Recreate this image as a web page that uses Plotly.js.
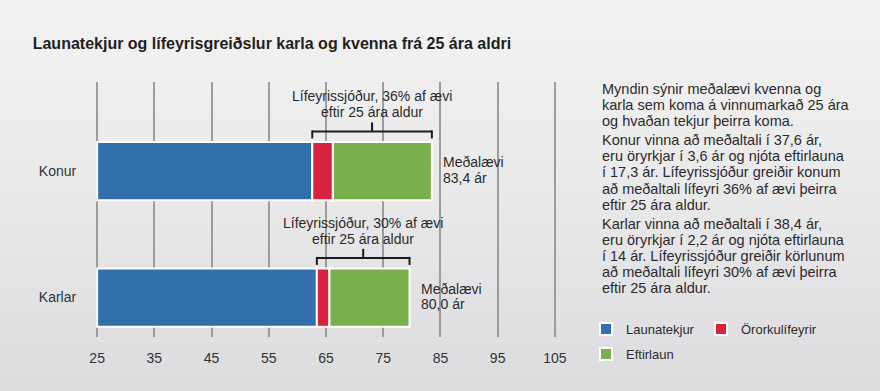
<!DOCTYPE html>
<html><head><meta charset="utf-8">
<script src="https://cdn.plot.ly/plotly-3.0.1.min.js"></script>
<style>
html,body{margin:0;padding:0;}
body{width:880px;height:391px;overflow:hidden;background:linear-gradient(to bottom,#f3f3f3 0%,#eaeaeb 45%,#dcdcdf 100%);}
#chart{width:880px;height:391px;}
</style></head><body><div id="chart"></div>
<script>
// ---------- data ----------
const categories = ['Karlar', 'Konur'];
const launatekjur = [38.4, 37.6];
const ororkulifeyrir = [2.2, 3.6];
const eftirlaun = [14.0, 17.3];
const medalaeviLabels = ['80,0 ár', '83,4 ár'];
const lifeyrisPct = ['30%', '36%'];
const startAge = 25;
const xTicks = [25, 35, 45, 55, 65, 75, 85, 95, 105];
const seriesNames = ['Launatekjur', 'Örorkulífeyrir', 'Eftirlaun'];
const titleText = 'Launatekjur og lífeyrisgreiðslur karla og kvenna frá 25 ára aldri';
const noteParagraphs = [
  ['Myndin sýnir meðalævi kvenna og', 'karla sem koma á vinnumarkað 25 ára', 'og hvaðan tekjur þeirra koma.'],
  ['Konur vinna að meðaltali í 37,6 ár,', 'eru öryrkjar í 3,6 ár og njóta eftirlauna', 'í 17,3 ár. Lífeyrissjóður greiðir konum', 'að meðaltali lífeyri 36% af ævi þeirra', 'eftir 25 ára aldur.'],
  ['Karlar vinna að meðaltali í 38,4 ár,', 'eru öryrkjar í 2,2 ár og njóta eftirlauna', 'í 14 ár. Lífeyrissjóður greiðir körlunum', 'að meðaltali lífeyri 30% af ævi þeirra', 'eftir 25 ára aldur.']
];

// ---------- style ----------
const colors = ['#3170ad', '#d9223f', '#7ab04b'];
const FONT = 'Liberation Sans, Arial, sans-serif';
const TXT = '#2b2b2b';
const W = 880, H = 391;
const xRange = [24.8, 105.2];
const M = {l: 95.85, r: 323.85, t: 82, b: 54, autoexpand: false};
const plotH = H - M.t - M.b, plotW = W - M.l - M.r;
const yRange = [-0.312, 1.704];
const pxPerCat = plotH / (yRange[1] - yRange[0]);
const barW = 0.461;
const px2u = p => p / pxPerCat;
const paperX = px => (px - M.l) / plotW;
const paperY = py => (H - M.b - py) / plotH;

// ---------- derived from data ----------
const base1 = categories.map(() => startAge);
const base2 = launatekjur.map((v, i) => base1[i] + v);
const base3 = ororkulifeyrir.map((v, i) => base2[i] + v);
const ends = eftirlaun.map((v, i) => base3[i] + v);
const bases = [base1, base2, base3];
const vals = [launatekjur, ororkulifeyrir, eftirlaun];
const legends = ['legend', 'legend2', 'legend3'];

const traces = vals.map((v, k) => ({
  type: 'bar', orientation: 'h', name: seriesNames[k],
  y: categories, x: v, base: bases[k], width: barW,
  marker: {color: colors[k], line: {color: '#ffffff', width: 2}},
  legend: legends[k], showlegend: true, hoverinfo: 'skip'
}));

const shapes = [];
const annotations = [];
categories.forEach((c, i) => {
  const top = i + barW / 2;
  const s = base2[i], e = ends[i], m = (s + e) / 2;
  const yEnd = top + px2u(3.5), yH = top + px2u(10.5), yT = top + px2u(19.5);
  const ln = {type: 'line', xref: 'x', yref: 'y', line: {color: '#1c1c1c', width: 2}};
  shapes.push({...ln, x0: s, x1: e, y0: yH, y1: yH});
  shapes.push({...ln, x0: s, x1: s, y0: yEnd, y1: yH + px2u(1)});
  shapes.push({...ln, x0: e, x1: e, y0: yEnd, y1: yH + px2u(1)});
  shapes.push({...ln, x0: m, x1: m, y0: yH, y1: yT});
  const af = {size: 14, color: TXT, family: FONT};
  annotations.push({xref: 'x', yref: 'y', x: m, y: top, yshift: 45.5, xanchor: 'center', yanchor: 'middle',
    text: 'Lífeyrissjóður, ' + lifeyrisPct[i] + ' af ævi', showarrow: false, font: af});
  annotations.push({xref: 'x', yref: 'y', x: m, y: top, yshift: 29.5, xanchor: 'center', yanchor: 'middle',
    text: 'eftir 25 ára aldur', showarrow: false, font: af});
  annotations.push({xref: 'x', yref: 'y', x: e, y: i, xshift: 9, yshift: 8.8, xanchor: 'left', yanchor: 'middle',
    text: 'Meðalævi', showarrow: false, font: af});
  annotations.push({xref: 'x', yref: 'y', x: e, y: i, xshift: 9, yshift: -6.6, xanchor: 'left', yanchor: 'middle',
    text: medalaeviLabels[i], showarrow: false, font: af});
});

// right-hand note, one annotation per line
let baseline = 94;
const lineStep = 16.2, paraGap = 2.5, noteSize = 14.5;
noteParagraphs.forEach((para, pi) => {
  if (pi > 0) baseline += paraGap;
  para.forEach(line => {
    annotations.push({xref: 'paper', yref: 'paper', x: paperX(601.5), y: paperY(baseline - 0.3465 * noteSize),
      xanchor: 'left', yanchor: 'middle', text: line, showarrow: false, borderpad: 0,
      font: {size: noteSize, color: TXT, family: FONT}});
    baseline += lineStep;
  });
});

const legFont = {size: 13, color: TXT, family: FONT};
const mkLeg = (px, py) => ({xref: 'container', yref: 'container', x: px / W, y: 1 - py / H,
  xanchor: 'left', yanchor: 'middle', orientation: 'h', font: legFont, bgcolor: 'rgba(0,0,0,0)', borderwidth: 0});

const layout = {
  width: W, height: H,
  margin: M,
  paper_bgcolor: 'rgba(0,0,0,0)', plot_bgcolor: 'rgba(0,0,0,0)',
  barmode: 'overlay',
  title: {text: titleText, xref: 'container', yref: 'container', x: 32.7 / W, xanchor: 'left',
    y: 1 - 43.5 / H, yanchor: 'middle', automargin: false,
    font: {family: 'Liberation Sans Narrow, Arial Narrow, sans-serif', size: 16, weight: 'bold', color: '#1f1f1f'}},
  xaxis: {range: xRange, tickvals: xTicks, ticktext: xTicks.map(String), showgrid: true, gridcolor: '#9c9c9c', gridwidth: 2,
    zeroline: false, showline: false, ticks: 'outside', ticklen: 8, tickcolor: 'rgba(0,0,0,0)', automargin: false,
    tickfont: {size: 14, color: '#333', family: FONT}, fixedrange: true},
  yaxis: {type: 'category', categoryorder: 'array', categoryarray: categories, range: yRange, automargin: false,
    showgrid: false, zeroline: false, showline: false, ticks: 'outside', ticklen: 16, tickcolor: 'rgba(0,0,0,0)',
    tickfont: {size: 14, color: '#333', family: FONT}, fixedrange: true},
  shapes: shapes, annotations: annotations,
  legend: mkLeg(586, 329), legend2: mkLeg(701, 329), legend3: mkLeg(586, 354),
  hovermode: false
};

Plotly.newPlot('chart', traces, layout, {staticPlot: true, displayModeBar: false});
</script></body></html>
